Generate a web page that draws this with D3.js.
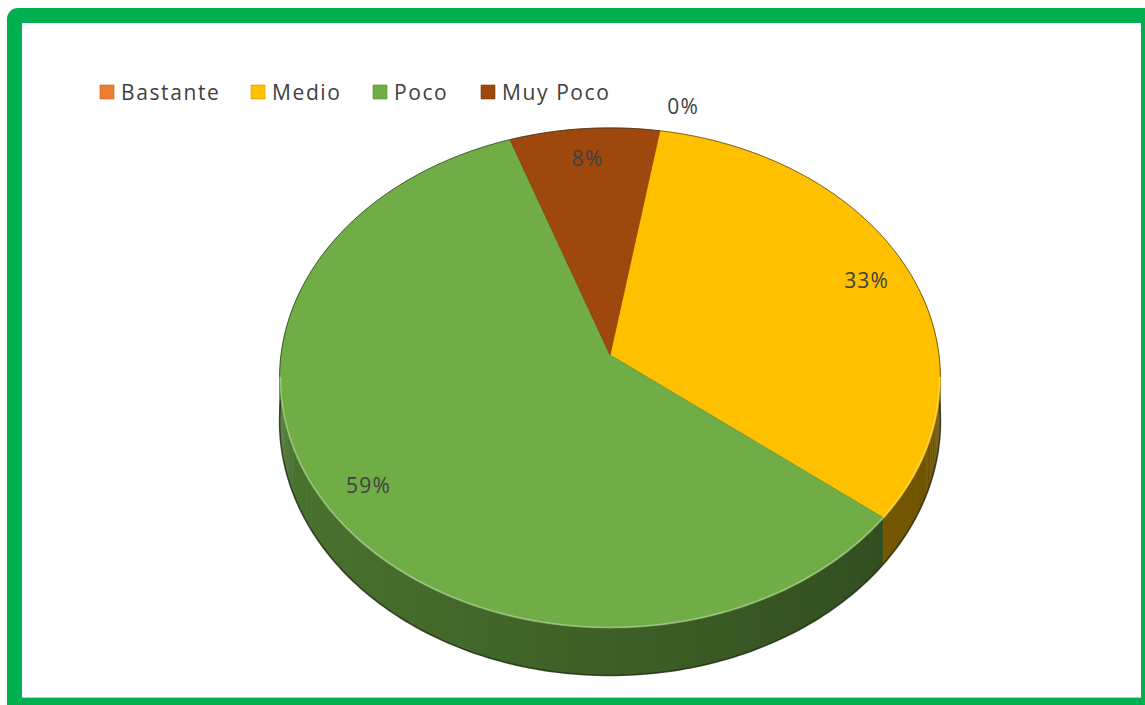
<!DOCTYPE html>
<html>
<head>
<meta charset="utf-8">
<script src="https://cdn.jsdelivr.net/npm/d3@7/dist/d3.min.js"></script>
<style>
  html, body { margin: 0; padding: 0; background: #ffffff; }
  svg { display: block; }
</style>
</head>
<body>
<svg id="chart" width="1145" height="705"></svg>
<script>
// Survey answers and their shares (percent)
const categories = ["Bastante", "Medio", "Poco", "Muy Poco"];
const values = [0, 33, 59, 8];
const colors = ["#ED7D31", "#FFC000", "#70AD47", "#9E480E"];
const labelText = ["0%", "33%", "59%", "8%"];

const W = 1145, H = 705;
const svg = d3.select("#chart");

// Frame: thick green border with rounded outer corner
svg.append("rect").attr("x", 7).attr("y", 8).attr("width", W + 20).attr("height", H + 20)
  .attr("rx", 11).attr("fill", "#00B050");
svg.append("rect").attr("x", 22).attr("y", 23).attr("width", 1119).attr("height", 675)
  .attr("fill", "#ffffff");
svg.append("line").attr("x1", 22).attr("x2", 1141).attr("y1", 697.5).attr("y2", 697.5)
  .attr("stroke", "#c8c8c8").attr("stroke-width", 1);

// 3D pie geometry: tilted disc with mild perspective
const cx = 610, cy = 355;   // apex of the slices
const Rx = 329;             // horizontal radius
const A = 248;              // vertical radius before perspective
const p = 0.092;            // perspective strength
const depth = 43;           // thickness of the disc

function proj(theta, r, dz) {
  const c = Math.cos(theta), s = Math.sin(theta);
  const f = 1 / (1 + p * r * c);
  return [cx + Rx * r * s * f, cy - A * r * c * f + (dz || 0) * f];
}

const firstAngle = 9.5 * Math.PI / 180;
const pie = d3.pie().sort(null).value(d => d)
  .startAngle(firstAngle).endAngle(firstAngle + 2 * Math.PI);
const arcs = pie(values);

const line = d3.line();

function shade(hex, k) {
  const c = d3.rgb(hex);
  return d3.rgb(c.r * k, c.g * k, c.b * k).formatHex();
}

// Outer walls (front half), drawn as narrow strips so the shade follows the angle
const wallG = svg.append("g");
arcs.forEach((a, i) => {
  if (a.endAngle - a.startAngle <= 0) return;
  const step = Math.PI / 360;
  for (let t = a.startAngle; t < a.endAngle; t += step) {
    const t2 = Math.min(t + step * 1.6, a.endAngle);
    const tm = (t + t2) / 2;
    if (Math.cos(tm) > 0.25) continue;
    const k = 0.55 - 0.12 * Math.sin(tm);
    const pts = [proj(t, 1, 0), proj(t2, 1, 0), proj(t2, 1, depth), proj(t, 1, depth)];
    wallG.append("path").attr("d", line(pts) + "Z")
      .attr("fill", shade(colors[i], k));
  }
});

// Dark rim along the bottom edge of the wall
const rimPts = d3.range(60, 301, 1).map(d => proj(d * Math.PI / 180, 1, depth));
wallG.append("path").attr("d", line(rimPts)).attr("fill", "none")
  .attr("stroke", "#1e2a12").attr("stroke-width", 1.6).attr("stroke-opacity", 0.8);

// Top faces
const topG = svg.append("g");
arcs.forEach((a, i) => {
  if (a.endAngle - a.startAngle <= 0) return;
  const n = Math.max(2, Math.ceil((a.endAngle - a.startAngle) / (Math.PI / 180)));
  const pts = [proj(0, 0, 0)];
  for (let j = 0; j <= n; j++) {
    pts.push(proj(a.startAngle + (a.endAngle - a.startAngle) * j / n, 1, 0));
  }
  topG.append("path").attr("d", line(pts) + "Z")
    .attr("fill", colors[i])
    .attr("stroke", shade(colors[i], 0.85)).attr("stroke-width", 0.7);
});

// Thin highlight along the front rim of the top face
const hiPts = d3.range(95, 266, 1).map(d => proj(d * Math.PI / 180, 0.997, 0));
topG.append("path").attr("d", line(hiPts)).attr("fill", "none")
  .attr("stroke", "#ffffff").attr("stroke-width", 1.2).attr("stroke-opacity", 0.35);

// Thin dark outline along the back rim
const backPts = d3.range(-95, 96, 1).map(d => proj(d * Math.PI / 180, 1, 0));
topG.append("path").attr("d", line(backPts)).attr("fill", "none")
  .attr("stroke", "#2a2a1a").attr("stroke-width", 1).attr("stroke-opacity", 0.55);

// Data labels
const labelG = svg.append("g")
  .attr("font-family", "'Open Sans', 'Noto Sans', sans-serif")
  .attr("font-size", 21).attr("letter-spacing", 1.2).attr("fill", "#404040");
arcs.forEach((a, i) => {
  const mid = (a.startAngle + a.endAngle) / 2;
  const empty = a.endAngle - a.startAngle <= 0;
  const pt = proj(mid, empty ? 1.12 : 0.86, 0);
  labelG.append("text")
    .attr("x", empty ? pt[0] + 2 : pt[0]).attr("y", pt[1])
    .attr("text-anchor", empty ? "start" : "middle")
    .attr("dominant-baseline", "central")
    .text(labelText[i]);
});

// Legend
const legendX = [100, 251, 373, 481];
const legend = svg.append("g")
  .attr("font-family", "'Open Sans', 'Noto Sans', sans-serif")
  .attr("font-size", 21).attr("letter-spacing", 1.6).attr("fill", "#404040");
categories.forEach((c, i) => {
  legend.append("rect").attr("x", legendX[i]).attr("y", 85).attr("width", 14).attr("height", 14)
    .attr("fill", colors[i]).attr("stroke", shade(colors[i], 0.8)).attr("stroke-width", 0.6);
  legend.append("text").attr("x", legendX[i] + 21).attr("y", 92)
    .attr("dominant-baseline", "central").text(c);
});
</script>
</body>
</html>
